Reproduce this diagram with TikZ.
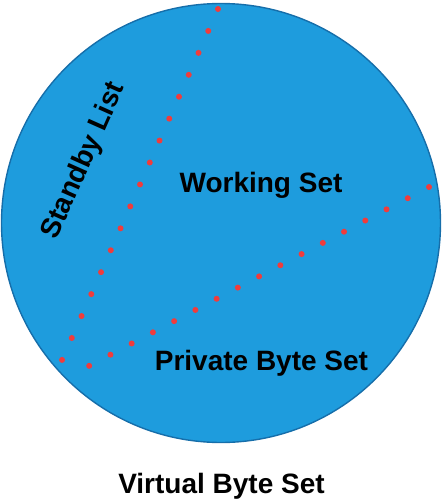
\documentclass[tikz,border=0pt]{standalone}
\usepackage{fontspec}
\setmainfont{Liberation Sans}
\usepackage{tikz}
\usetikzlibrary{calc}
\usepackage{xcolor}
\definecolor{setfill}{RGB}{30, 156, 221}
\definecolor{setedge}{RGB}{22, 110, 170}
\definecolor{boundary}{RGB}{240, 60, 60}

\tikzset{
    setlabel/.style={font=\bfseries\fontsize{28}{32}\selectfont, inner sep=0pt},
    dotline/.style={boundary, line width=6pt, line cap=round, dash pattern=on 0pt off 24pt}
}

\begin{document}
\begin{tikzpicture}[x=1pt, y=-1pt]
        \useasboundingbox (0,0) rectangle (444,504);

        \filldraw[fill=setfill, draw=setedge, line width=1.4pt] (221,223) circle (219.5);

        % boundaries between the sets
        \coordinate (standbytop) at (218,9);
        \coordinate (standbybottom) at (62,360);
        \coordinate (privatetop) at (429,187);
        \coordinate (privatebottom) at (68,377);
        \draw[dotline] (standbytop) -- (standbybottom);
        \draw[dotline] (privatetop) -- (privatebottom);

        \node[setlabel, rotate=66] (standby) at (84,161) {Standby List};
        \node[setlabel, anchor=base] (working) at (261,192) {Working Set};
        \node[setlabel, anchor=base] (private) at (261.5,370) {Private Byte Set};
        \node[setlabel, anchor=base] (virtual) at (221.5,493) {Virtual Byte Set};

    \end{tikzpicture}
\end{document}
